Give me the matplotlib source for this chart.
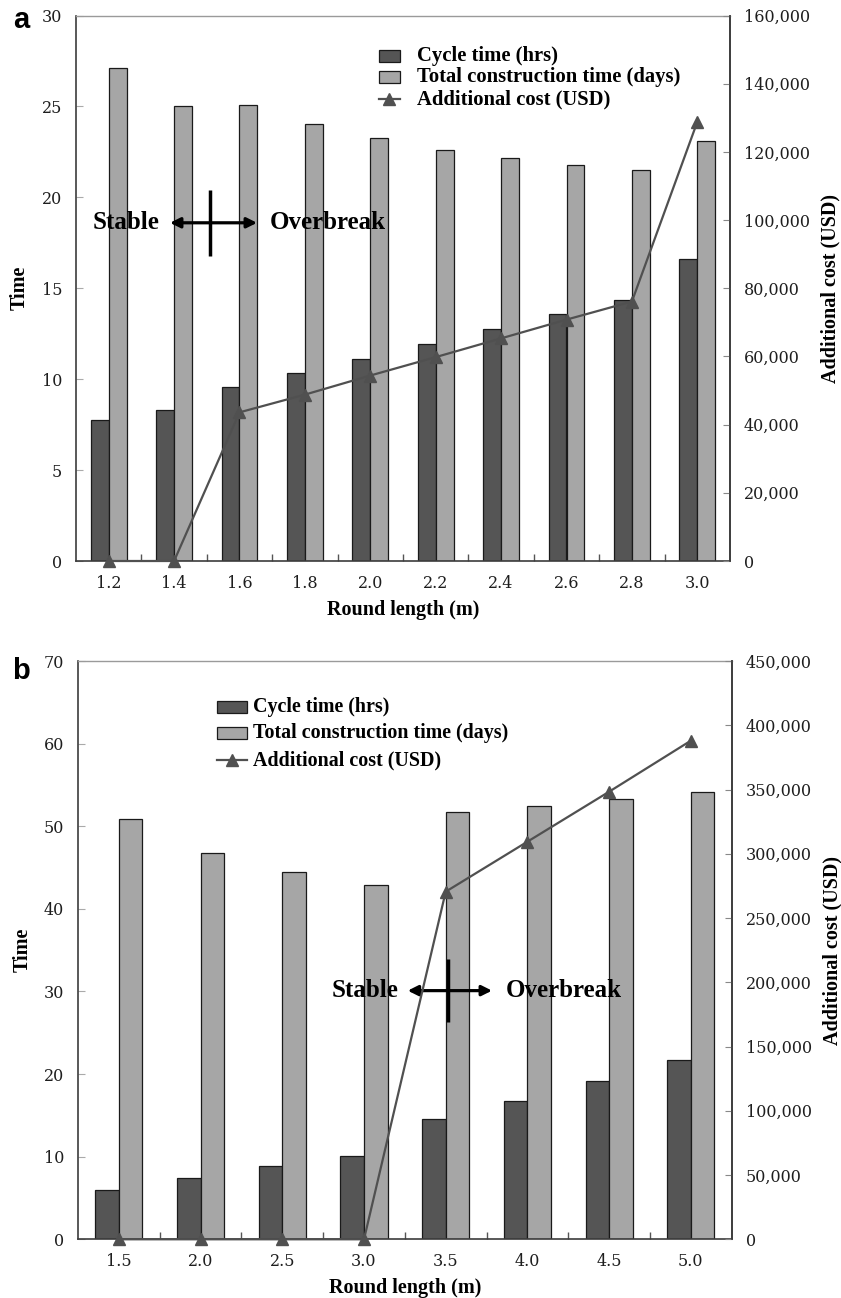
import matplotlib
matplotlib.use("Agg")
import matplotlib.pyplot as plt
from matplotlib.patches import Rectangle
from matplotlib.lines import Line2D
import numpy as np

# ---- Panel a: round length 1.2-3.0 m ----
round_a = ["1.2", "1.4", "1.6", "1.8", "2.0", "2.2", "2.4", "2.6", "2.8", "3.0"]
cycle_a = [7.75, 8.33, 9.58, 10.35, 11.09, 11.95, 12.74, 13.57, 14.36, 16.6]
total_a = [27.1, 25.0, 25.08, 24.03, 23.26, 22.61, 22.16, 21.8, 21.53, 23.09]
cost_a = [0, 0, 43600, 48800, 54400, 59800, 65300, 70800, 76100, 128800]

# ---- Panel b: round length 1.5-5.0 m ----
round_b = ["1.5", "2.0", "2.5", "3.0", "3.5", "4.0", "4.5", "5.0"]
cycle_b = [5.97, 7.38, 8.87, 10.08, 14.52, 16.7, 19.12, 21.74]
total_b = [50.83, 46.72, 44.5, 42.88, 51.76, 52.4, 53.3, 54.18]
cost_b = [0, 0, 0, 0, 270500, 309400, 348300, 388000]

legend_labels = ["Cycle time (hrs)", "Total construction time (days)",
                 "Additional cost (USD)"]

W, H = 841, 1298
DARK = "#555555"
LIGHT = "#a6a6a6"
LINE = "#505050"
SERIF = "Liberation Serif"
TICKFONT = "DejaVu Serif"

fig = plt.figure(figsize=(W / 100, H / 100), dpi=100)


def fxy(x, y):
    """Pixel position (origin top-left) -> figure fraction."""
    return x / W, 1 - y / H


def draw_panel(rect, labels, cycle, total, cost, tmax, tstep, cmax, cstep,
               barw, xlab_y, ylab_x, rlab_x):
    ax = fig.add_axes(rect)
    n = len(labels)
    x = np.arange(n)
    ax.bar(x - barw / 2, cycle, width=barw, color=DARK, edgecolor="#1a1a1a",
           linewidth=0.9, zorder=2)
    ax.bar(x + barw / 2, total, width=barw, color=LIGHT, edgecolor="#1a1a1a",
           linewidth=0.9, zorder=2)
    ax.set_xlim(-0.5, n - 0.5)
    ax.set_ylim(0, tmax)
    ax.set_yticks(np.arange(0, tmax + 0.1, tstep))
    ax.set_xticks(x)
    ax.set_xticklabels(labels)
    ax.set_xticks(np.arange(0.5, n - 0.5, 1.0), minor=True)
    ax.tick_params(axis="x", which="major", length=0, pad=10,
                   labelsize=11.5, labelcolor="#1e1e1e")
    ax.tick_params(axis="x", which="minor", direction="in", length=5,
                   color="#555555", width=1)
    ax.tick_params(axis="y", direction="in", length=5, color="#aaaaaa",
                   pad=10, labelsize=11.5, labelcolor="#1e1e1e")
    for lab in ax.get_xticklabels() + ax.get_yticklabels():
        lab.set_family(TICKFONT)
    for side in ("left", "bottom", "right"):
        ax.spines[side].set_color("#3c3c3c")
        ax.spines[side].set_linewidth(1.2)
    ax.spines["top"].set_color("#9a9a9a")
    ax.spines["top"].set_linewidth(1.0)

    ax.set_xlabel("Round length (m)", family=SERIF, fontweight="bold",
                  fontsize=14.5)
    ax.xaxis.set_label_coords(0.5, xlab_y)
    ax.set_ylabel("Time", family=SERIF, fontweight="bold", fontsize=14.5)
    ax.yaxis.set_label_coords(ylab_x, 0.5)

    ax2 = ax.twinx()
    ax2.plot(x, cost, color=LINE, linewidth=1.6, marker="^", markersize=9,
             markerfacecolor=LINE, markeredgecolor=LINE, clip_on=False,
             zorder=5)
    ax2.set_ylim(0, cmax)
    ax2.set_yticks(np.arange(0, cmax + 1, cstep))
    ax2.set_yticklabels([f"{int(v):,}" for v in np.arange(0, cmax + 1, cstep)])
    ax2.tick_params(axis="y", direction="in", length=5, color="#888888",
                    pad=10, labelsize=11.5, labelcolor="#1e1e1e")
    for lab in ax2.get_yticklabels():
        lab.set_family(TICKFONT)
    for side in ("left", "top", "bottom"):
        ax2.spines[side].set_visible(False)
    ax2.spines["right"].set_color("#3c3c3c")
    ax2.spines["right"].set_linewidth(1.2)
    ax2.set_ylabel("Additional cost (USD)", family=SERIF, fontweight="bold",
                   fontsize=14.5)
    ax2.yaxis.set_label_coords(rlab_x, 0.5)
    return ax, ax2


def stable_marker(ax, x_text_r, x1, x2, x_text_l, xv, y, y_lo, y_hi):
    ax.text(x_text_r, y, "Stable", ha="right", va="center", family=SERIF,
            fontweight="bold", fontsize=18, zorder=4)
    ax.text(x_text_l, y, "Overbreak", ha="left", va="center", family=SERIF,
            fontweight="bold", fontsize=18, zorder=4)
    ax.annotate("", xy=(x2, y), xytext=(x1, y),
                arrowprops=dict(arrowstyle="<|-|>", color="black", lw=2.3,
                                mutation_scale=15, shrinkA=0, shrinkB=0),
                zorder=4)
    ax.plot([xv, xv], [y_lo, y_hi], color="black", lw=2.5, zorder=4,
            solid_capstyle="butt")


def draw_legend(px_l, px_r, text_x, rows_y, patch_h, fsize):
    handles = ["dark", "light", "line"]
    for kind, ry, label in zip(handles, rows_y, legend_labels):
        x0, y0 = fxy(px_l, ry + patch_h / 2)
        x1, _ = fxy(px_r, ry)
        if kind == "line":
            xa, ya = fxy(px_l, ry)
            xb, _ = fxy(px_r, ry)
            fig.add_artist(Line2D([xa, xb], [ya, ya], color=LINE, lw=1.6,
                                  transform=fig.transFigure))
            fig.add_artist(Line2D([(xa + xb) / 2], [ya], color=LINE,
                                  marker="^", markersize=9,
                                  transform=fig.transFigure))
        else:
            fig.add_artist(Rectangle((x0, y0), x1 - x0, patch_h / H,
                                     facecolor=DARK if kind == "dark" else LIGHT,
                                     edgecolor="#1a1a1a", linewidth=0.9,
                                     transform=fig.transFigure))
        tx, ty = fxy(text_x, ry)
        fig.text(tx, ty, label, ha="left", va="center", family=SERIF,
                 fontweight="bold", fontsize=fsize)


# ---- panel a ----
axa, axa2 = draw_panel([76 / W, 1 - 561 / H, 654 / W, 545.5 / H],
                       round_a, cycle_a, total_a, cost_a, 30, 5, 160000, 20000,
                       0.275, -0.072, -0.071, 1.1376)
stable_marker(axa, 0.78, 0.937, 2.268, 2.466, 1.549, 18.6, 16.8, 20.4)
draw_legend(379, 400, 417, [56, 77, 99], 12, 14.9)

# ---- panel b ----
axb, axb2 = draw_panel([78 / W, 1 - 1239.3 / H, 653.7 / W, 578.3 / H],
                       round_b, cycle_b, total_b, cost_b, 70, 10, 450000, 50000,
                       0.288, -0.067, -0.069, 1.1386)
stable_marker(axb, 3.42, 3.535, 4.567, 4.739, 4.029, 30.1, 26.3, 33.9)
draw_legend(217, 247, 253, [706.7, 733, 760], 12, 14.4)

# panel letters
fig.text(*fxy(21, 28), "a", ha="center", va="baseline",
         family="Liberation Sans", fontweight="bold", fontsize=21)
fig.text(*fxy(21, 679), "b", ha="center", va="baseline",
         family="Liberation Sans", fontweight="bold", fontsize=21)

fig.savefig("out.png", dpi=100)
